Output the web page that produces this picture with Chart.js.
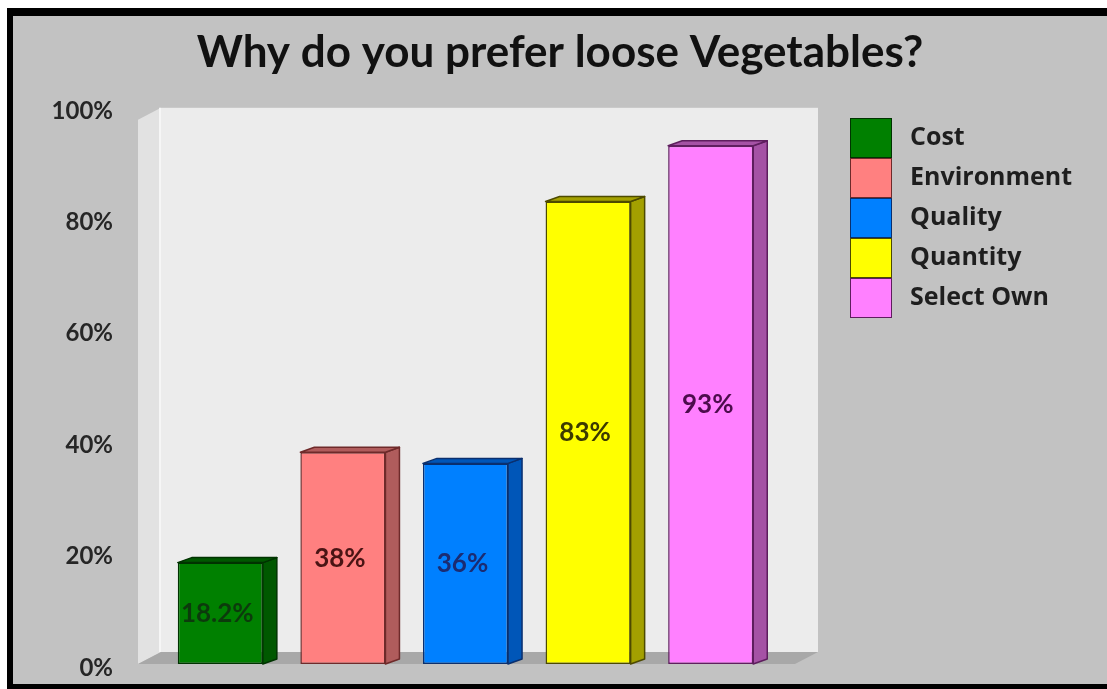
<!DOCTYPE html>
<html>
<head>
<meta charset="utf-8">
<script src="https://cdn.jsdelivr.net/npm/chart.js@4.4.1/dist/chart.umd.min.js"></script>
<style>
  html, body { margin: 0; padding: 0; background: #fff; }
  #frame {
    position: absolute; left: 7px; top: 8px;
    width: 1094px; height: 668px;
    border-left: 6px solid #000; border-top: 8px solid #000; border-bottom: 5px solid #000;
    background: #c2c2c2;
  }
  canvas { display: block; }
</style>
</head>
<body>
<div id="frame"><canvas id="reasons" width="1094" height="668"></canvas></div>
<script>
'use strict'

const categories = ['Cost', 'Environment', 'Quality', 'Quantity', 'Select Own'];
const shares = [18.2, 38, 36, 83, 93];
const yTicks = [0, 20, 40, 60, 80, 100];

const faceColors = ['#008000', '#ff8080', '#0080ff', '#ffff00', '#ff80ff'];
const sideColors = ['#005800', '#b05c5c', '#0056b8', '#a3a000', '#a552a5'];
const edgeColors = ['#003300', '#6e2a2a', '#0a2f6e', '#4d4a00', '#5e1e5e'];
const labelColors = ['#0c3a0c', '#4a1414', '#1b2c72', '#3c3a00', '#4c0c4c'];

// fake 3d: room walls behind the bars, side and top faces on each bar
const ROOM_DX = 23, ROOM_DY = 12;
const BAR_DX = 14, BAR_DY = 5;

const room3d = {
  id: 'room3d',
  beforeDatasetsDraw(chart) {
    const {ctx, chartArea: a} = chart;
    const fl = a.left - 21, fr = a.right + 23;
    const top = a.top + 13, bot = a.bottom;
    ctx.save();
    // back wall
    ctx.fillStyle = '#ececec';
    ctx.fillRect(fl + ROOM_DX, top - ROOM_DY, fr - fl, bot - top);
    // left wall
    ctx.fillStyle = '#e2e2e2';
    ctx.beginPath();
    ctx.moveTo(fl, bot);
    ctx.lineTo(fl, top);
    ctx.lineTo(fl + ROOM_DX, top - ROOM_DY);
    ctx.lineTo(fl + ROOM_DX, bot - ROOM_DY);
    ctx.closePath();
    ctx.fill();
    ctx.strokeStyle = '#f6f6f6';
    ctx.lineWidth = 2;
    ctx.beginPath();
    ctx.moveTo(fl + ROOM_DX - 1, top - ROOM_DY);
    ctx.lineTo(fl + ROOM_DX - 1, bot - ROOM_DY);
    ctx.stroke();
    // floor
    ctx.fillStyle = '#a8a8a8';
    ctx.beginPath();
    ctx.moveTo(fl, bot);
    ctx.lineTo(fl + ROOM_DX, bot - ROOM_DY);
    ctx.lineTo(fr + ROOM_DX, bot - ROOM_DY);
    ctx.lineTo(fr, bot);
    ctx.closePath();
    ctx.fill();
    ctx.restore();
  },
  afterDatasetsDraw(chart) {
    const {ctx} = chart;
    const meta = chart.getDatasetMeta(0);
    ctx.save();
    ctx.lineWidth = 1.5;
    ctx.lineJoin = 'round';
    meta.data.forEach((bar, i) => {
      const {x, y, base, width} = bar.getProps(['x', 'y', 'base', 'width'], true);
      const l = x - width / 2, r = x + width / 2;
      ctx.fillStyle = sideColors[i];
      ctx.strokeStyle = edgeColors[i];
      // side face
      ctx.beginPath();
      ctx.moveTo(r, y);
      ctx.lineTo(r + BAR_DX, y - BAR_DY);
      ctx.lineTo(r + BAR_DX, base - BAR_DY);
      ctx.lineTo(r, base);
      ctx.closePath();
      ctx.fill();
      ctx.stroke();
      // top face
      ctx.beginPath();
      ctx.moveTo(l, y);
      ctx.lineTo(l + BAR_DX, y - BAR_DY);
      ctx.lineTo(r + BAR_DX, y - BAR_DY);
      ctx.lineTo(r, y);
      ctx.closePath();
      ctx.fill();
      ctx.stroke();
    });
    // value labels, middle of each bar
    ctx.font = 'bold 26px Lato';
    ctx.textAlign = 'center';
    ctx.textBaseline = 'middle';
    meta.data.forEach((bar, i) => {
      const {x, y, base} = bar.getProps(['x', 'y', 'base'], true);
      ctx.fillStyle = labelColors[i];
      ctx.fillText(shares[i] + '%', x - 3, (y + base) / 2);
    });
    ctx.restore();
  },
  afterDraw(chart) {
    // legend block on the right
    const {ctx} = chart;
    const bx = 837, by = 102, bw = 42, bh = 40;
    ctx.save();
    ctx.font = 'bold 25px "Open Sans"';
    ctx.textBaseline = 'middle';
    ctx.textAlign = 'left';
    categories.forEach((name, i) => {
      const top = by + i * bh;
      ctx.fillStyle = faceColors[i];
      ctx.fillRect(bx, top, bw, bh);
      ctx.strokeStyle = edgeColors[i];
      ctx.lineWidth = 1;
      ctx.strokeRect(bx + 0.5, top + 0.5, bw - 1, bh - 1);
      ctx.fillStyle = '#1e1e1e';
      ctx.fillText(name, 897, top + bh / 2);
    });
    ctx.restore();
  }
};

const ctx = document.getElementById('reasons').getContext('2d');
const reasonsChart = new Chart(ctx, {
  type: 'bar',
  data: {
    labels: categories,
    datasets: [{
      label: 'Share',
      data: shares,
      backgroundColor: faceColors,
      borderColor: edgeColors,
      borderWidth: 1.5,
      borderSkipped: false,
      barPercentage: 0.694,
      categoryPercentage: 1,
    }]
  },
  options: {
    responsive: false,
    animation: false,
    layout: {
      padding: {left: 0, right: 0, top: 0, bottom: 20}
    },
    scales: {
      x: {
        display: false,
      },
      y: {
        min: 0,
        max: 100,
        afterBuildTicks(scale) {
          scale.ticks = yTicks.map(v => ({value: v}));
        },
        afterFit(scale) {
          scale.width = 146;
          scale.paddingTop = 0;
          scale.paddingBottom = 0;
        },
        grid: {display: false, drawTicks: false},
        border: {display: false},
        ticks: {
          padding: 46,
          labelOffset: 4,
          color: '#262626',
          font: {family: 'Lato', size: 24, weight: 'bold'},
          callback: function(value) {
            return value + '%';
          }
        }
      },
      // empty axis on the right, keeps room for the legend block
      side: {
        position: 'right',
        afterFit(scale) {
          scale.width = 335;
          scale.paddingTop = 0;
          scale.paddingBottom = 0;
        },
        grid: {display: false, drawTicks: false},
        border: {display: false},
        ticks: {display: false}
      }
    },
    plugins: {
      legend: {display: false},
      tooltip: {enabled: false},
      title: {
        display: true,
        text: 'Why do you prefer loose Vegetables?',
        color: '#111',
        font: {family: 'Lato', size: 44, weight: 'bold'},
        padding: {top: 10, bottom: 28}
      }
    }
  },
  plugins: [room3d]
});
</script>
</body>
</html>
